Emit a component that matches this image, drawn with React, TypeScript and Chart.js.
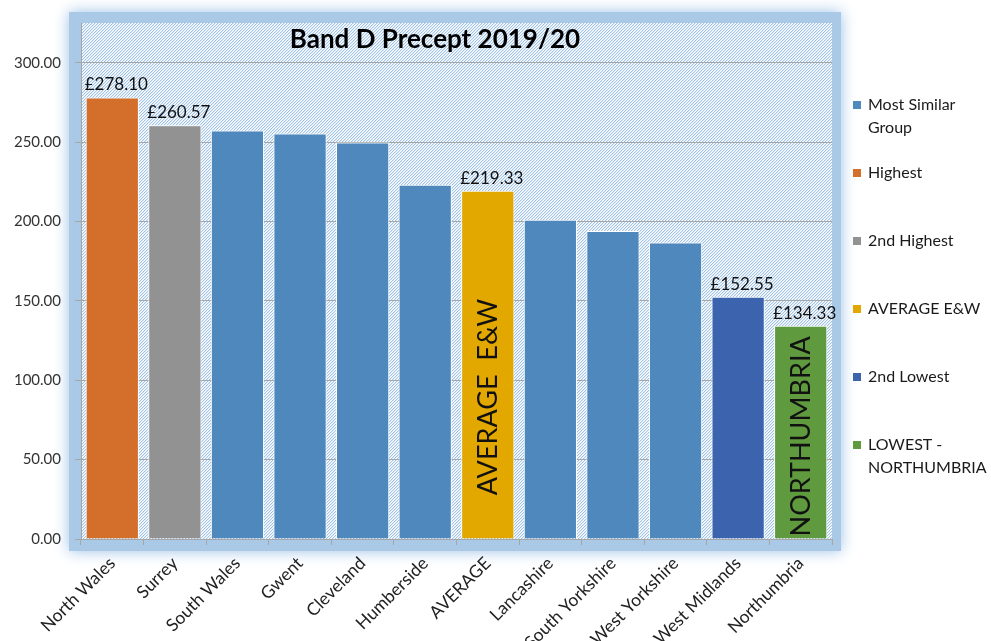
import { useEffect, useRef } from "react";
import { Chart, registerables } from "chart.js";

Chart.register(...registerables);

const chartTitle = "Band D Precept 2019/20";
const categories = [
  "North Wales",
  "Surrey",
  "South Wales",
  "Gwent",
  "Cleveland",
  "Humberside",
  "AVERAGE",
  "Lancashire",
  "South Yorkshire",
  "West Yorkshire",
  "West Midlands",
  "Northumbria",
];
const values = [278.1, 260.57, 257.3, 255.4, 249.8, 223.1, 219.33, 201.1, 194.0, 186.8, 152.55, 134.33];
const groupNames = [
  "Most Similar Group",
  "Highest",
  "2nd Highest",
  "AVERAGE E&W",
  "2nd Lowest",
  "LOWEST - NORTHUMBRIA",
];
const legendLines = [
  ["Most Similar", "Group"],
  ["Highest"],
  ["2nd Highest"],
  ["AVERAGE E&W"],
  ["2nd Lowest"],
  ["LOWEST -", "NORTHUMBRIA"],
];
const groupColors = ["#4f88bd", "#d46f2b", "#929292", "#e3a800", "#3c63ad", "#5f9a3e"];
const barGroups = [1, 2, 0, 0, 0, 0, 3, 0, 0, 0, 4, 5];
const valueLabels = ["£278.10", "£260.57", "", "", "", "", "£219.33", "", "", "", "£152.55", "£134.33"];
const insideLabels = ["", "", "", "", "", "", "AVERAGE  E&W", "", "", "", "", "NORTHUMBRIA"];
const yTicks = [0, 50, 100, 150, 200, 250, 300];
const yMax = 325;

const FONT = "Lato, 'Noto Sans', sans-serif";

function makePattern(ctx: CanvasRenderingContext2D) {
  const c = document.createElement("canvas");
  c.width = 3;
  c.height = 3;
  const p = c.getContext("2d")!;
  const img = p.createImageData(3, 3);
  for (let y = 0; y < 3; y++) {
    for (let x = 0; x < 3; x++) {
      const k = (x + y) % 3;
      const col = k === 0 ? [160, 195, 232] : k === 1 ? [222, 234, 247] : [255, 255, 255];
      const i = (y * 3 + x) * 4;
      img.data[i] = col[0];
      img.data[i + 1] = col[1];
      img.data[i + 2] = col[2];
      img.data[i + 3] = 255;
    }
  }
  p.putImageData(img, 0, 0);
  return ctx.createPattern(c, "repeat")!;
}

const framePlugin = {
  id: "frame",
  beforeDraw(chart: any) {
    const { ctx, chartArea: a } = chart;
    ctx.save();
    ctx.shadowColor = "rgba(150,190,230,0.95)";
    ctx.shadowBlur = 14;
    ctx.fillStyle = "#a9c9e7";
    ctx.fillRect(a.left - 12, 12, a.right - a.left + 21, a.bottom - 12 + 12);
    ctx.restore();
    ctx.save();
    ctx.fillStyle = makePattern(ctx);
    ctx.fillRect(a.left, a.top, a.right - a.left, a.bottom - a.top);
    ctx.restore();
  },
};

const insideOffsets: Record<number, number> = { 6: 0.407, 11: 0.48 };

const labelsPlugin = {
  id: "labels",
  afterDatasetsDraw(chart: any) {
    const { ctx, chartArea: a } = chart;
    const meta = chart.getDatasetMeta(0);
    ctx.save();
    // title
    ctx.fillStyle = "#000";
    ctx.font = `bold 26px ${FONT}`;
    ctx.textAlign = "center";
    ctx.textBaseline = "alphabetic";
    ctx.fillText(chartTitle, 435, 48);

    meta.data.forEach((bar: any, i: number) => {
      if (valueLabels[i]) {
        ctx.font = `17px ${FONT}`;
        ctx.fillStyle = "#111";
        ctx.textAlign = "center";
        ctx.textBaseline = "alphabetic";
        ctx.fillText(valueLabels[i], bar.x + 4, bar.y - 7);
      }
      if (insideLabels[i]) {
        const f = insideOffsets[i] ?? 0.5;
        const cy = bar.base - f * (bar.base - bar.y);
        ctx.save();
        ctx.translate(bar.x, cy);
        ctx.rotate(-Math.PI / 2);
        ctx.font = `27px ${FONT}`;
        ctx.fillStyle = "#111";
        ctx.textAlign = "center";
        ctx.textBaseline = "middle";
        ctx.fillText(insideLabels[i], 0, 1);
        ctx.restore();
      }
    });

    // legend
    ctx.font = `16px ${FONT}`;
    ctx.textAlign = "left";
    ctx.textBaseline = "middle";
    const lx = a.right + 21;
    legendLines.forEach((lines, i) => {
      const y0 = 105 + i * 68;
      ctx.fillStyle = groupColors[i];
      ctx.fillRect(lx, y0 - 4, 8, 8);
      ctx.fillStyle = "#1a1a1a";
      lines.forEach((t, j) => ctx.fillText(t, lx + 15, y0 + j * 23));
    });
    ctx.restore();
  },
};

export default function App() {
  const ref = useRef<HTMLCanvasElement | null>(null);
  useEffect(() => {
    if (!ref.current) return;
    const chart = new Chart(ref.current, {
      type: "bar",
      data: {
        labels: categories,
        datasets: [
          {
            label: groupNames[0],
            data: values,
            backgroundColor: barGroups.map((g) => groupColors[g]),
            borderColor: "#ffffff",
            borderWidth: 1,
            borderSkipped: "start",
            barPercentage: 0.85,
            categoryPercentage: 1,
          },
        ],
      },
      options: {
        responsive: false,
        animation: false,
        layout: { padding: { left: 0, top: 23, right: 159, bottom: 0 } },
        plugins: {
          legend: { display: false },
          tooltip: { enabled: false },
          title: { display: false },
        },
        scales: {
          x: {
            afterFit: (s: any) => {
              s.height = 102;
            },
            ticks: {
              autoSkip: false,
              minRotation: 45,
              maxRotation: 45,
              font: { family: FONT, size: 17.5 },
              color: "#222",
              padding: 8,
            },
            grid: { drawOnChartArea: false, tickLength: 6, color: "#a6a6a6", offset: true },
            border: { color: "#a6a6a6" },
          },
          y: {
            min: 0,
            max: yMax,
            afterFit: (s: any) => {
              s.width = 81;
            },
            afterBuildTicks: (s: any) => {
              s.ticks = yTicks.map((v) => ({ value: v }));
            },
            ticks: {
              callback: (v: any) => Number(v).toFixed(2),
              font: { family: FONT, size: 15 },
              color: "#333",
              padding: 14,
            },
            grid: { color: "#a6a6a6", tickLength: 6 },
            border: { color: "#a6a6a6" },
          },
        },
      },
      plugins: [framePlugin, labelsPlugin],
    });
    return () => chart.destroy();
  }, []);
  return (
    <div style={{ position: "fixed", left: 0, top: 0, width: 991, height: 641, background: "#fff" }}>
      <canvas ref={ref} width={991} height={641} style={{ display: "block" }} />
    </div>
  );
}
